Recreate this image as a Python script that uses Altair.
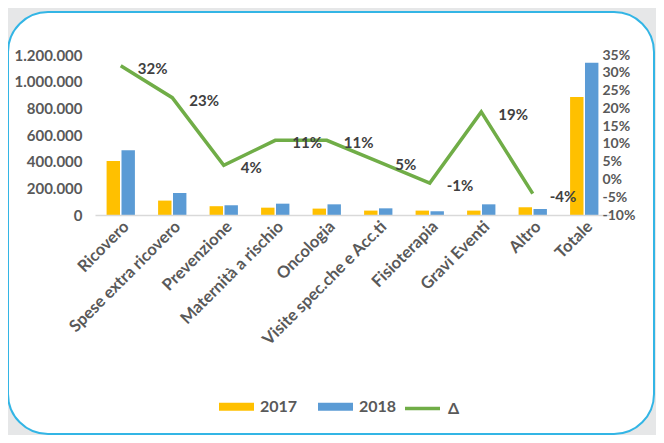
import altair as alt
import pandas as pd

categories = ["Ricovero", "Spese extra ricovero", "Prevenzione", "Maternità a rischio",
              "Oncologia", "Visite spec.che e Acc.ti", "Fisioterapia", "Gravi Eventi",
              "Altro", "Totale"]
values_2017 = [405000, 108000, 66000, 55000, 48000, 33000, 33000, 33000, 58000, 885000]
values_2018 = [485000, 165000, 73000, 85000, 80000, 50000, 28000, 80000, 45000, 1142000]
delta_categories = categories[:9]
delta_values = [0.32, 0.23, 0.04, 0.11, 0.11, 0.05, -0.01, 0.19, -0.04]
left_ticks = [0, 200000, 400000, 600000, 800000, 1000000, 1200000]
right_ticks = [-0.10, -0.05, 0.0, 0.05, 0.10, 0.15, 0.20, 0.25, 0.30, 0.35]

bars = pd.DataFrame(
    [{"cat": c, "anno": "2017", "val": v} for c, v in zip(categories, values_2017)]
    + [{"cat": c, "anno": "2018", "val": v} for c, v in zip(categories, values_2018)]
)
line = pd.DataFrame({"cat": delta_categories, "delta": delta_values, "serie": "Δ"})
box = pd.DataFrame({"k": [0]})

FONT = "Lato"
GRAY = "#595959"

xscale = alt.Scale(domain=categories, paddingInner=0.45, paddingOuter=0.225)

frame = alt.Chart(box).mark_rect(
    fill="white", stroke="#33b5e5", strokeWidth=2, cornerRadius=40
).encode(
    x=alt.value(-87), x2=alt.value(559), y=alt.value(-43), y2=alt.value(379)
)

bar_layer = alt.Chart(bars).mark_bar().encode(
    x=alt.X("cat:N", scale=xscale, sort=categories, title=None,
            axis=alt.Axis(labelAngle=-45, labelFont=FONT, labelFontSize=16.5,
                          labelFontWeight="bold", labelColor=GRAY, ticks=False,
                          domainColor="#d9d9d9", domainWidth=1.5, labelPadding=3,
                          labelLimit=300, zindex=1)),
    xOffset=alt.XOffset("anno:N", scale=alt.Scale(paddingInner=0.1)),
    y=alt.Y("val:Q", scale=alt.Scale(domain=[0, 1200000], nice=False), title=None,
            axis=alt.Axis(values=left_ticks, grid=False, domain=False, ticks=False,
                          labelPadding=13, labelFont=FONT, labelFontSize=15,
                          labelFontWeight="bold", labelColor=GRAY, zindex=1,
                          labelExpr="replace(format(datum.value, ','), regexp(',', 'g'), '.')")),
    color=alt.Color("anno:N", scale=alt.Scale(domain=["2017", "2018"],
                                               range=["#ffc000", "#5b9bd5"]),
                    legend=alt.Legend(title=None, orient="none", legendX=124, legendY=334,
                                      direction="horizontal",
                                      symbolType="M-1,-0.23H1V0.23H-1Z", symbolSize=1225,
                                      symbolStrokeWidth=0, labelFont=FONT, labelFontSize=16,
                                      labelFontWeight="bold", labelColor=GRAY,
                                      labelOffset=6, columnPadding=20)),
)

yright = alt.Y("delta:Q", scale=alt.Scale(domain=[-0.10, 0.35], nice=False), title=None,
               axis=alt.Axis(orient="right", values=right_ticks, grid=False, domain=False,
                             ticks=False, offset=-10, labelPadding=2, labelFont=FONT,
                             labelFontSize=14, labelFontWeight="bold", labelColor=GRAY,
                             zindex=1, labelExpr="round(datum.value*100) + '%'"))

line_layer = alt.Chart(line).mark_line(strokeWidth=3.5).encode(
    x=alt.X("cat:N", scale=xscale, sort=categories),
    y=yright,
    stroke=alt.Stroke("serie:N", scale=alt.Scale(domain=["Δ"], range=["#70ad47"]),
                      legend=alt.Legend(title=None, orient="none", legendX=308, legendY=334,
                                        symbolType="stroke", symbolSize=1225,
                                        symbolStrokeWidth=3.5, labelFont=FONT,
                                        labelFontSize=16, labelFontWeight="bold",
                                        labelColor=GRAY, labelOffset=6)),
)

text_layer = alt.Chart(line).transform_calculate(
    lab="round(datum.delta*100) + '%'"
).mark_text(align="left", dx=17, dy=3, font=FONT, fontSize=15, fontWeight="bold",
            color="#404040").encode(
    x=alt.X("cat:N", scale=xscale, sort=categories),
    y=yright,
    text="lab:N",
)

right = alt.layer(line_layer, text_layer)

chart = alt.layer(frame, bar_layer, right).resolve_scale(
    y="independent"
).properties(
    width=515, height=160,
    autosize=alt.AutoSizeParams(type="none"),
    padding={"left": 87, "top": 47, "right": 46, "bottom": 220},
    background="#e6e7e8",
).configure_view(stroke=None)

chart.save("out.html", embed_options={"renderer": "svg", "actions": False})
